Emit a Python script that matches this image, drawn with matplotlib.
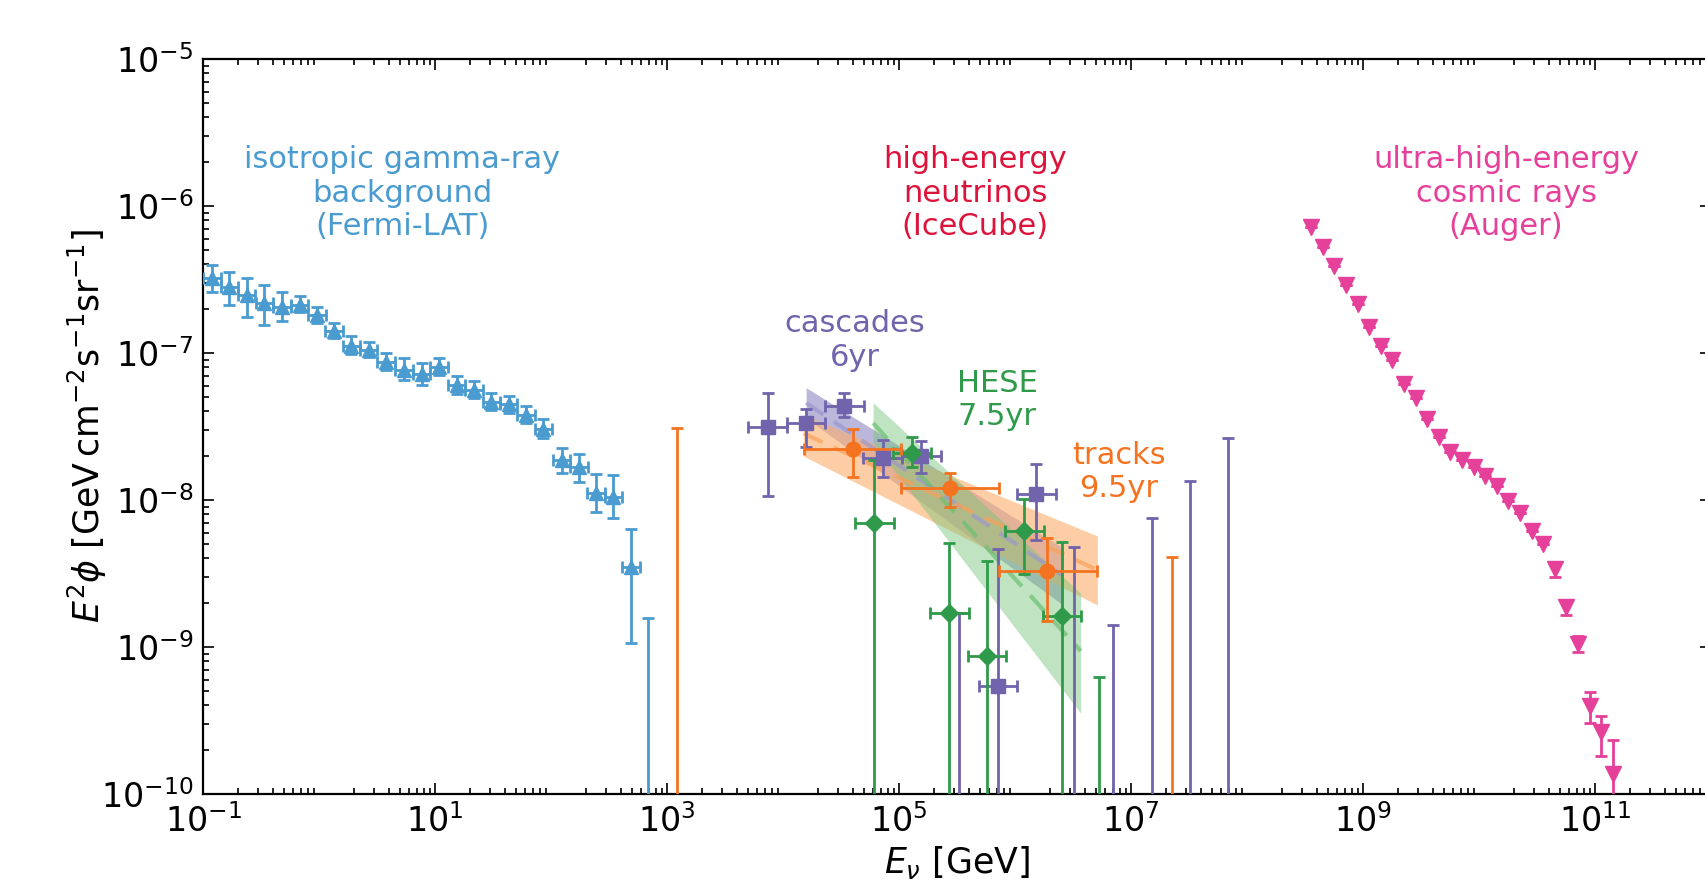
import numpy as np
import matplotlib
matplotlib.use('Agg')
import matplotlib.pyplot as plt
from matplotlib.ticker import FixedLocator, LogFormatterSciNotation, NullFormatter

# colours
C_FERMI = '#4a9bcf'
C_AUGER = '#e5409a'
C_ICECUBE = '#dc143c'
C_CASC = '#7163ac'
C_HESE = '#2e9a4a'
C_TRACK = '#f47321'

# Fermi-LAT isotropic gamma-ray background
fermi_E = [0.119, 0.168, 0.238, 0.338, 0.480, 0.682, 0.962, 1.35, 1.90, 2.68,
           3.78, 5.41, 7.68, 10.8, 15.3, 21.6, 30.6, 43.2, 60.8, 85.9,
           123, 174, 244, 344, 490]
fermi_F = [3.22e-7, 2.80e-7, 2.48e-7, 2.20e-7, 2.07e-7, 2.12e-7, 1.80e-7, 1.41e-7, 1.12e-7, 1.05e-7,
           8.65e-8, 7.66e-8, 7.19e-8, 8.07e-8, 6.06e-8, 5.60e-8, 4.62e-8, 4.48e-8, 3.79e-8, 3.04e-8,
           1.86e-8, 1.67e-8, 1.11e-8, 1.05e-8, 3.52e-9]
fermi_hi = [3.97e-7, 3.57e-7, 3.25e-7, 2.90e-7, 2.61e-7, 2.45e-7, 2.05e-7, 1.61e-7, 1.31e-7, 1.19e-7,
            1.00e-7, 9.20e-8, 8.51e-8, 9.29e-8, 6.98e-8, 6.49e-8, 5.32e-8, 5.13e-8, 4.38e-8, 3.56e-8,
            2.25e-8, 2.06e-8, 1.50e-8, 1.48e-8, 6.35e-9]
fermi_lo = [2.61e-7, 2.12e-7, 1.77e-7, 1.55e-7, 1.66e-7, 1.91e-7, 1.61e-7, 1.26e-7, 9.84e-8, 9.35e-8,
            7.66e-8, 6.55e-8, 6.06e-8, 7.08e-8, 5.26e-8, 4.92e-8, 4.09e-8, 3.93e-8, 3.36e-8, 2.65e-8,
            1.52e-8, 1.33e-8, 8.24e-9, 7.50e-9, 1.06e-9]
fermi_ul_E = [690]
fermi_ul_F = [1.57e-9]
fermi_halfbin = 0.075  # decades

# IceCube cascades 6yr
casc_E = [7.38e3, 1.58e4, 3.37e4, 7.23e4, 1.55e5, 7.10e5, 1.52e6]
casc_F = [3.15e-8, 3.36e-8, 4.38e-8, 1.94e-8, 1.99e-8, 5.46e-10, 1.10e-8]
casc_hi = [5.37e-8, 4.14e-8, 5.32e-8, 2.56e-8, 2.53e-8, 4.67e-9, 1.76e-8]
casc_lo = [1.06e-8, 2.31e-8, 3.66e-8, 1.43e-8, 1.52e-8, 1e-12, 5.35e-9]
casc_ul_E = [3.31e5, 3.24e6, 6.95e6, 1.50e7, 3.23e7, 6.90e7]
casc_ul_F = [1.69e-9, 4.81e-9, 1.42e-9, 7.60e-9, 1.35e-8, 2.63e-8]
casc_halfbin = 1 / 6

# IceCube HESE 7.5yr
hese_E = [6.12e4, 1.29e5, 2.71e5, 5.71e5, 1.20e6, 2.53e6]
hese_F = [7.02e-9, 2.10e-8, 1.71e-9, 8.69e-10, 6.18e-9, 1.63e-9]
hese_hi = [1.87e-8, 2.67e-8, 5.13e-9, 3.86e-9, 1.01e-8, 5.18e-9]
hese_lo = [1e-12, 1.67e-8, 1e-12, 1e-12, 3.14e-9, 1e-12]
hese_ul_E = [5.30e6]
hese_ul_F = [6.22e-10]
hese_halfbin = 1 / 6

# IceCube tracks 9.5yr
track_E = [3.99e4, 2.75e5, 1.90e6]
track_Elo = [1.50e4, 1.04e5, 7.28e5]
track_Ehi = [1.04e5, 7.28e5, 5.06e6]
track_F = [2.22e-8, 1.20e-8, 3.30e-9]
track_hi = [3.03e-8, 1.53e-8, 5.48e-9]
track_lo = [1.43e-8, 9.00e-9, 1.51e-9]
track_ul_E = [1.21e3, 2.24e7]
track_ul_F = [3.08e-8, 4.11e-9]

# power-law fit bands: energy range, upper edge, lower edge, best fit
casc_band_E = [1.58e4, 2.59e6]
casc_band_up = [5.81e-8, 4.71e-9]
casc_band_dn = [3.61e-8, 1.93e-9]
casc_band_mid = [4.57e-8, 3.05e-9]
hese_band_E = [5.97e4, 3.68e6]
hese_band_up = [4.59e-8, 2.32e-9]
hese_band_dn = [2.44e-8, 3.54e-10]
hese_band_mid = [3.34e-8, 9.4e-10]
track_band_E = [1.50e4, 5.12e6]
track_band_up = [3.79e-8, 5.69e-9]
track_band_dn = [1.99e-8, 1.93e-9]
track_band_mid = [2.84e-8, 3.34e-9]

# Pierre Auger UHECR spectrum
auger_E = [3.57e8, 4.49e8, 5.65e8, 7.11e8, 8.95e8, 1.13e9, 1.42e9, 1.79e9, 2.25e9, 2.83e9,
           3.57e9, 4.49e9, 5.65e9, 7.11e9, 8.95e9, 1.13e10, 1.42e10, 1.79e10, 2.25e10, 2.83e10,
           3.57e10, 4.49e10, 5.65e10, 7.11e10, 8.95e10, 1.13e11, 1.42e11]
auger_F = [7.16e-7, 5.28e-7, 3.91e-7, 2.90e-7, 2.14e-7, 1.51e-7, 1.12e-7, 8.92e-8, 6.12e-8, 4.92e-8,
           3.58e-8, 2.70e-8, 2.13e-8, 1.87e-8, 1.68e-8, 1.46e-8, 1.25e-8, 9.88e-9, 8.11e-9, 6.18e-9,
           5.02e-9, 3.40e-9, 1.86e-9, 1.05e-9, 3.97e-10, 2.63e-10, 1.37e-10]
auger_hi = auger_F[:21] + [3.8e-9, 2.1e-9, 1.18e-9, 4.92e-10, 3.41e-10, 2.33e-10]
auger_lo = auger_F[:21] + [3.01e-9, 1.65e-9, 9.29e-10, 3.03e-10, 1.82e-10, 1e-12]

EB = dict(capsize=4.5, elinewidth=2, capthick=2)


def points(ax, E, F, lo, hi, Elo, Ehi, color, marker, ms):
    E, F, lo, hi = map(np.asarray, (E, F, lo, hi))
    ax.errorbar(E, F, xerr=[E - np.asarray(Elo), np.asarray(Ehi) - E],
                yerr=[F - lo, hi - F], fmt=marker, color=color, ms=ms,
                zorder=3, **EB)


def limits(ax, E, F, color):
    F = np.asarray(F)
    ax.errorbar(E, F, yerr=[F - 1e-12, np.zeros_like(F)], fmt='none',
                ecolor=color, zorder=3, **EB)


def band(ax, E, up, dn, mid, color, alpha, lcolor):
    ax.fill_between(E, dn, up, color=color, alpha=alpha, lw=0, zorder=1)
    ax.plot(E, mid, '--', color=lcolor, lw=3, alpha=0.7, dashes=(5, 3), zorder=2)


plt.rcParams['font.family'] = 'DejaVu Sans'
plt.rcParams['mathtext.fontset'] = 'dejavusans'

fig = plt.figure(figsize=(17.05, 8.83), dpi=100)
ax = fig.add_axes([0.1191, 0.1008, 0.8845, 0.8324])
ax.set_xscale('log')
ax.set_yscale('log')

band(ax, casc_band_E, casc_band_up, casc_band_dn, casc_band_mid, '#8c88c4', 0.6, '#9c98cc')
band(ax, track_band_E, track_band_up, track_band_dn, track_band_mid, '#fdae6b', 0.6, '#f9a25a')
band(ax, hese_band_E, hese_band_up, hese_band_dn, hese_band_mid, '#74c476', 0.45, '#6cbf70')

fE = np.asarray(fermi_E)
points(ax, fE, fermi_F, fermi_lo, fermi_hi, fE * 10**-fermi_halfbin, fE * 10**fermi_halfbin,
       C_FERMI, '^', 9.5)
limits(ax, fermi_ul_E, fermi_ul_F, C_FERMI)

cE = np.asarray(casc_E)
points(ax, cE, casc_F, casc_lo, casc_hi, cE * 10**-casc_halfbin, cE * 10**casc_halfbin,
       C_CASC, 's', 10)
limits(ax, casc_ul_E, casc_ul_F, C_CASC)

hE = np.asarray(hese_E)
points(ax, hE, hese_F, hese_lo, hese_hi, hE * 10**-hese_halfbin, hE * 10**hese_halfbin,
       C_HESE, 'D', 9.5)
limits(ax, hese_ul_E, hese_ul_F, C_HESE)

points(ax, track_E, track_F, track_lo, track_hi, track_Elo, track_Ehi, C_TRACK, 'o', 10.5)
limits(ax, track_ul_E, track_ul_F, C_TRACK)

points(ax, auger_E, auger_F, auger_lo, auger_hi, auger_E, auger_E, C_AUGER, 'v', 11.5)

ax.set_xlim(1e-1, 1e12)
ax.set_ylim(1e-10, 1e-5)

# annotations
tkw = dict(ha='center', va='center', fontsize=22, multialignment='center')
ax.text(5.2, 1.22e-6, 'isotropic gamma-ray\nbackground\n(Fermi-LAT)', color=C_FERMI, **tkw)
ax.text(4.52e5, 1.22e-6, 'high-energy\nneutrinos\n(IceCube)', color=C_ICECUBE, **tkw)
ax.text(1.71e10, 1.22e-6, 'ultra-high-energy\ncosmic rays\n(Auger)', color=C_AUGER, **tkw)
ax.text(4.18e4, 1.22e-7, 'cascades\n6yr', color=C_CASC, **tkw)
ax.text(7.0e5, 4.79e-8, 'HESE\n7.5yr', color=C_HESE, **tkw)
ax.text(7.88e6, 1.55e-8, 'tracks\n9.5yr', color=C_TRACK, **tkw)

# ticks
ax.xaxis.set_major_locator(FixedLocator([10.0**k for k in range(-1, 13, 2)]))
ax.xaxis.set_minor_locator(FixedLocator([m * 10.0**k for k in range(-1, 12) for m in range(2, 10)]))
ax.xaxis.set_major_formatter(LogFormatterSciNotation())
ax.xaxis.set_minor_formatter(NullFormatter())
ax.tick_params(which='both', direction='in', top=True, right=True, labelsize=24, width=1.2)
ax.tick_params(which='major', length=8, pad=7)
ax.tick_params(which='minor', length=4)
for s in ax.spines.values():
    s.set_linewidth(1.6)

ax.set_xlabel(r'$E_\nu$ [GeV]', fontsize=25, labelpad=4)
ax.set_ylabel(r'$E^2\phi$ [GeV$\,$cm$^{-2}$s$^{-1}$sr$^{-1}$]', fontsize=25, labelpad=-6)

fig.savefig('out.png', dpi=100)
